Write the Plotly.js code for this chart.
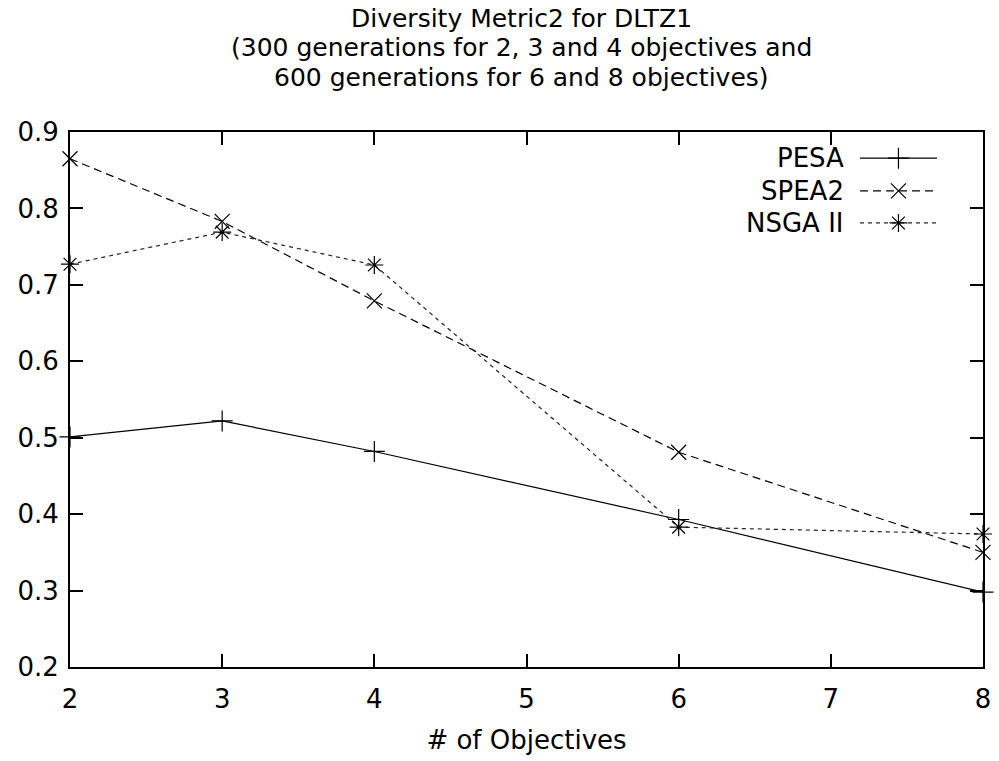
<!DOCTYPE html>
<html>
<head>
<meta charset="utf-8">
<script src="https://cdn.plot.ly/plotly-3.0.1.min.js"></script>
<style>html,body{margin:0;padding:0;background:#fff;}#chart{width:999px;height:761px;}</style>
</head>
<body>
<div id="chart"></div>
<script>
const objectives = [2, 3, 4, 6, 8];
const pesa  = [0.501, 0.522, 0.482, 0.393, 0.298];
const spea2 = [0.865, 0.783, 0.679, 0.481, 0.350];
const nsga2 = [0.727, 0.769, 0.726, 0.383, 0.374];
const seriesNames = ["PESA", "SPEA2", "NSGA II"];
const xTicks = [2, 3, 4, 5, 6, 7, 8];
const yTicks = [0.2, 0.3, 0.4, 0.5, 0.6, 0.7, 0.8, 0.9];
const titleLines = [
  "Diversity Metric2 for DLTZ1",
  "(300 generations for 2, 3 and 4 objectives and",
  "600 generations for 6 and 8 objectives)"
];

const FAMILY = "DejaVu Sans, Liberation Sans, Arial, sans-serif";
const font = {family: FAMILY, size: 26, color: "#000"};
const titleFont = {family: FAMILY, size: 25, color: "#000"};

const styles = [
  {dash: "solid", symbol: "cross-thin-open", color: "#000"},
  {dash: "8px,5px", symbol: "x-thin-open", color: "#000"},
  {dash: "4px,4px", symbol: "asterisk-open", color: "#222"}
];
const values = [pesa, spea2, nsga2];

const traces = values.map((v, i) => ({
  x: objectives, y: v, type: "scatter", mode: "lines+markers", name: seriesNames[i],
  showlegend: false, cliponaxis: false,
  line: {color: styles[i].color, width: 1.2, dash: styles[i].dash},
  marker: {symbol: styles[i].symbol, size: 15, color: "#000", line: {color: "#000", width: 1.2}}
}));

// legend samples (gnuplot style: text on left, sample on right) on a hidden overlay axis
const legY = [0.951, 0.890, 0.830];
const annotations = [];
values.forEach((v, i) => {
  traces.push({
    x: [0.8653, 0.9496], y: [legY[i], legY[i]], xaxis: "x2", yaxis: "y2",
    type: "scatter", mode: "lines", showlegend: false, hoverinfo: "skip",
    line: {color: styles[i].color, width: 1.2, dash: styles[i].dash}
  });
  traces.push({
    x: [0.9074], y: [legY[i]], xaxis: "x2", yaxis: "y2",
    type: "scatter", mode: "markers", showlegend: false, hoverinfo: "skip",
    marker: {symbol: styles[i].symbol, size: 15, color: "#000", line: {color: "#000", width: 1.2}}
  });
  annotations.push({
    xref: "paper", yref: "paper", x: 0.850, y: legY[i], xanchor: "right", yanchor: "middle",
    text: seriesNames[i], showarrow: false, font: font
  });
});

// title as three tightly spaced lines
const titleY = [18, 47.5, 77];
titleLines.forEach((t, i) => {
  annotations.push({
    xref: "paper", yref: "paper", x: 0.494, y: 1 + (132 - titleY[i]) / 535.5,
    xanchor: "center", yanchor: "middle", text: t, showarrow: false, font: titleFont,
    borderpad: 0
  });
});

const layout = {
  width: 999, height: 761,
  margin: {l: 70, r: 16, t: 132, b: 93.5},
  paper_bgcolor: "#fff", plot_bgcolor: "#fff",
  font: font,
  xaxis: {
    range: [2, 8], tickvals: xTicks, ticktext: xTicks.map(String),
    ticks: "inside", ticklen: 13, tickwidth: 2, tickcolor: "#000",
    mirror: "allticks", showline: true, linecolor: "#000", linewidth: 2,
    showgrid: false, zeroline: false, tickfont: font, ticklabelstandoff: 8,
    title: {text: "# of Objectives", font: font, standoff: 18}
  },
  yaxis: {
    range: [0.2, 0.9], tickvals: yTicks, ticktext: yTicks.map(t => t.toFixed(1)),
    ticks: "inside", ticklen: 13, tickwidth: 2, tickcolor: "#000",
    mirror: "allticks", showline: true, linecolor: "#000", linewidth: 2,
    showgrid: false, zeroline: false, tickfont: font, ticklabelstandoff: 4
  },
  xaxis2: {overlaying: "x", range: [0, 1], visible: false, fixedrange: true},
  yaxis2: {overlaying: "y", range: [0, 1], visible: false, fixedrange: true},
  annotations: annotations
};

Plotly.newPlot("chart", traces, layout, {displayModeBar: false, staticPlot: true});
</script>
</body>
</html>
